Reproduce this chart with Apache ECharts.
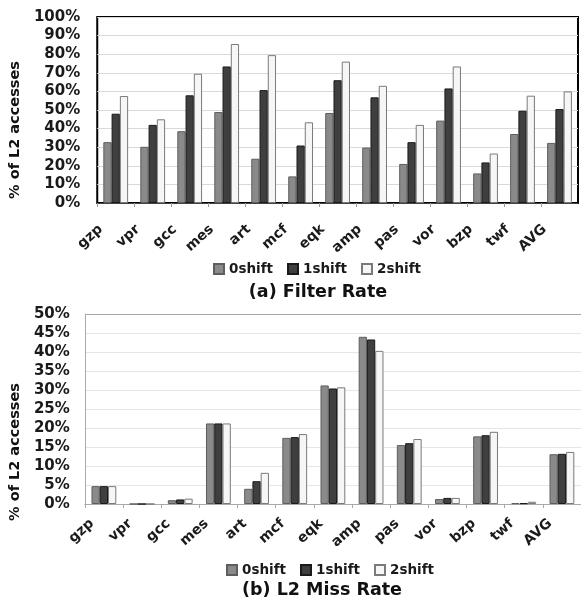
<!DOCTYPE html>
<html>
<head>
<meta charset="utf-8">
<script src="https://cdn.jsdelivr.net/npm/echarts@6/dist/echarts.min.js"></script>
<style>html,body{margin:0;padding:0;background:#fff;}#c{width:581px;height:607px;}</style>
</head>
<body>
<div id="c"></div>
<script>
const categories = ['gzp','vpr','gcc','mes','art','mcf','eqk','amp','pas','vor','bzp','twf','AVG'];
const seriesNames = ['0shift','1shift','2shift'];
const filter0 = [32.7, 30.2, 38.6, 48.9, 23.8, 14.3, 48.4, 29.8, 21.0, 44.3, 15.9, 37.1, 32.3];
const filter1 = [48.0, 42.0, 57.9, 73.4, 60.7, 30.9, 66.0, 56.8, 32.7, 61.6, 21.8, 49.6, 50.5];
const filter2 = [57.5, 45.0, 69.5, 85.5, 79.5, 43.4, 76.0, 63.0, 42.0, 73.4, 26.6, 57.7, 60.0];
const miss0 = [4.7, 0, 1.0, 21.2, 4.0, 17.4, 31.2, 44.0, 15.5, 1.3, 17.8, 0.2, 13.1];
const miss1 = [4.7, 0, 1.2, 21.2, 6.0, 17.6, 30.4, 43.3, 16.0, 1.6, 18.1, 0.2, 13.2];
const miss2 = [4.7, 0, 1.4, 21.2, 8.2, 18.4, 30.7, 40.3, 17.1, 1.6, 19.0, 0.6, 13.7];
const filterTicks = {min: 0, max: 100, interval: 10};
const missTicks = {min: 0, max: 50, interval: 5};

const FONT = 'DejaVu Sans';
const styles = [
  {color: '#8a8a8a', borderColor: '#5e5e5e', borderWidth: 1},
  {color: '#3f3f3f', borderColor: '#1a1a1a', borderWidth: 1},
  {color: '#f6f6f6', borderColor: '#7a7a7a', borderWidth: 1}
];
const labelStyle = {fontFamily: FONT, fontWeight: 'bold', color: '#1a1a1a'};

function mkSeries(data, i, gi) {
  return {
    name: seriesNames[i], type: 'bar', xAxisIndex: gi, yAxisIndex: gi,
    data: data, barGap: '0%', barCategoryGap: gi === 0 ? '33%' : '35%',
    itemStyle: styles[i], emphasis: {disabled: true}, animation: false
  };
}

const chart = echarts.init(document.getElementById('c'), null, {renderer: 'canvas'});
chart.setOption({
  animation: false,
  title: [
    {text: '(a) Filter Rate', left: 318, top: 283, textAlign: 'center', padding: 0,
     textStyle: {fontFamily: FONT, fontWeight: 'bold', fontSize: 17.5, color: '#111'}},
    {text: '(b) L2 Miss Rate', left: 322, top: 581, textAlign: 'center', padding: 0,
     textStyle: {fontFamily: FONT, fontWeight: 'bold', fontSize: 17.5, color: '#111'}}
  ],
  legend: [
    {data: seriesNames, left: 213, top: 262, padding: 0, itemWidth: 10, itemHeight: 10, itemGap: 14,
     icon: 'rect', textStyle: Object.assign({fontSize: 13.5}, labelStyle)},
    {data: seriesNames, left: 226, top: 563, padding: 0, itemWidth: 10, itemHeight: 10, itemGap: 14,
     icon: 'rect', textStyle: Object.assign({fontSize: 13.5}, labelStyle)}
  ],
  grid: [
    {left: 95, top: 17, width: 483, height: 186, show: true, borderColor: '#000', borderWidth: 2, backgroundColor: 'transparent'},
    {left: 83, top: 314, width: 498, height: 190}
  ],
  xAxis: [
    {type: 'category', gridIndex: 0, data: categories,
     axisLine: {lineStyle: {color: '#444', width: 1}},
     axisTick: {show: true, length: 4, lineStyle: {color: '#999'}},
     axisLabel: Object.assign({rotate: 42, fontSize: 14, margin: 11, padding: [0, 20, 0, 0], interval: 0}, labelStyle)},
    {type: 'category', gridIndex: 1, data: categories,
     axisLine: {lineStyle: {color: '#aaa', width: 1}},
     axisTick: {show: true, length: 4, lineStyle: {color: '#aaa'}},
     axisLabel: Object.assign({rotate: 42, fontSize: 14, margin: 7, padding: [0, 16, 0, 0], interval: 0}, labelStyle)}
  ],
  yAxis: [
    {type: 'value', gridIndex: 0, min: filterTicks.min, max: filterTicks.max, interval: filterTicks.interval,
     axisLine: {show: false}, axisTick: {show: false},
     splitLine: {lineStyle: {color: '#d9d9d9'}},
     axisLabel: Object.assign({fontSize: 15, margin: 17, formatter: '{value}%'}, labelStyle),
     name: '% of L2 accesses', nameLocation: 'middle', nameGap: 55, nameRotate: 90,
     nameTextStyle: {fontFamily: FONT, fontWeight: 'bold', fontSize: 14.5, color: '#111', padding: [0, 40, 0, 0]}},
    {type: 'value', gridIndex: 1, min: missTicks.min, max: missTicks.max, interval: missTicks.interval,
     axisLine: {show: true, lineStyle: {color: '#aaa'}}, axisTick: {show: false},
     splitLine: {lineStyle: {color: ['#e6e6e6','#e6e6e6','#e6e6e6','#e6e6e6','#e6e6e6','#e6e6e6','#e6e6e6','#e6e6e6','#e6e6e6','#e6e6e6','#a8a8a8']}},
     axisLabel: Object.assign({fontSize: 15, margin: 15, formatter: '{value}%'}, labelStyle),
     name: '% of L2 accesses', nameLocation: 'middle', nameGap: 55, nameRotate: 90,
     nameTextStyle: {fontFamily: FONT, fontWeight: 'bold', fontSize: 14.5, color: '#111', padding: [0, 86, 0, 0]}}
  ],
  series: [
    mkSeries(filter0, 0, 0), mkSeries(filter1, 1, 0), mkSeries(filter2, 2, 0),
    mkSeries(miss0, 0, 1), mkSeries(miss1, 1, 1), mkSeries(miss2, 2, 1)
  ]
});
</script>
</body>
</html>
